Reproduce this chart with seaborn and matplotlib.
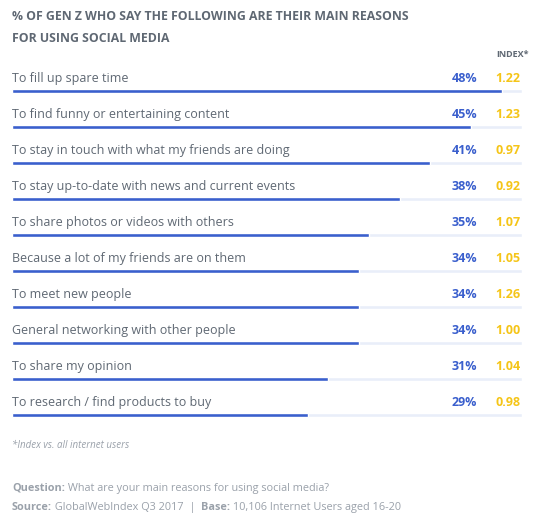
import numpy as np
import pandas as pd
import matplotlib
matplotlib.use("Agg")
import matplotlib.pyplot as plt
import seaborn as sns

reasons = [
    "To fill up spare time",
    "To find funny or entertaining content",
    "To stay in touch with what my friends are doing",
    "To stay up-to-date with news and current events",
    "To share photos or videos with others",
    "Because a lot of my friends are on them",
    "To meet new people",
    "General networking with other people",
    "To share my opinion",
    "To research / find products to buy",
]
pct = [48, 45, 41, 38, 35, 34, 34, 34, 31, 29]
index_vals = [1.22, 1.23, 0.97, 0.92, 1.07, 1.05, 1.26, 1.00, 1.04, 0.98]
track_max = 50

BLUE = "#3a5fcd"
TRACK = "#e9eef9"
YELLOW = "#f5c518"
GREY = "#5f6873"
LIGHT = "#9aa1aa"

sns.set_style("white")
plt.rcParams["font.family"] = ["Open Sans", "DejaVu Sans"]

df = pd.DataFrame({"reason": reasons, "pct": pct, "track": [track_max] * len(reasons)})

W, H = 550, 524
fig = plt.figure(figsize=(W / 100, H / 100), dpi=100)


def fx(px):
    return px / W


def fy(py):
    return 1 - py / H


ax = fig.add_axes([fx(12), fy(451), fx(510), 396 / H])
sns.barplot(data=df, y="reason", x="track", color=TRACK, width=0.11, ax=ax,
            saturation=1, orient="h")
sns.barplot(data=df, y="reason", x="pct", color=BLUE, width=0.11, ax=ax,
            saturation=1, orient="h")
ax.set_xlim(0, track_max)
ax.set_ylim(10, -1)
ax.axis("off")

for i, (r, p, idx) in enumerate(zip(reasons, pct, index_vals)):
    y = i - 0.34
    ax.text(0, y, r, ha="left", va="center", fontsize=9, color=GREY)
    ax.text(45.6, y, f"{p}%", ha="right", va="center", fontsize=9,
            color=BLUE, fontweight="bold")
    ax.text(47.4, y, f"{idx:.2f}", ha="left", va="center", fontsize=9,
            color=YELLOW, fontweight="bold")

ax.text(47.5, -1.0, "INDEX*", ha="left", va="center", fontsize=6.5,
        color=GREY, fontweight="bold", clip_on=False)

fig.text(fx(12), fy(16), "% OF GEN Z WHO SAY THE FOLLOWING ARE THEIR MAIN REASONS",
         ha="left", va="center", fontsize=8.8, color=GREY, fontweight="bold")
fig.text(fx(12), fy(38), "FOR USING SOCIAL MEDIA",
         ha="left", va="center", fontsize=8.8, color=GREY, fontweight="bold")

fig.text(fx(12), fy(445), "*Index vs. all internet users", ha="left", va="center",
         fontsize=7, color=LIGHT, style="italic")

renderer = fig.canvas.get_renderer()


def mixed_line(y, parts):
    # parts: list of (text, bold), laid out left to right on one baseline
    x = 12
    for txt, bold in parts:
        t = fig.text(fx(x), fy(y), txt, fontsize=7.8, color=LIGHT, va="baseline",
                     ha="left", fontweight="bold" if bold else "normal")
        x += t.get_window_extent(renderer).width


mixed_line(491, [("Question:", True), (" What are your main reasons for using social media?", False)])
mixed_line(510, [("Source:", True), (" GlobalWebIndex Q3 2017  |  ", False),
                 ("Base:", True), (" 10,106 Internet Users aged 16-20", False)])

fig.savefig("out.png", dpi=100)
